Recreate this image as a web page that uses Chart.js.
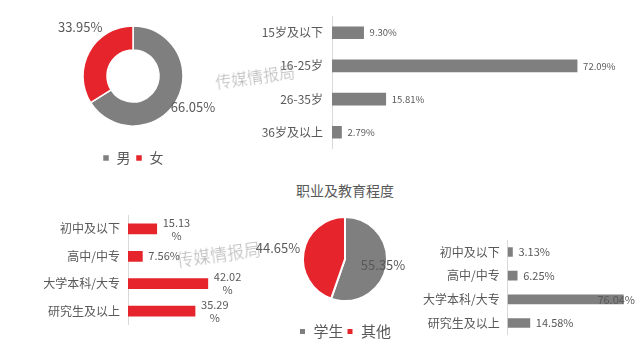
<!DOCTYPE html>
<html><head><meta charset="utf-8">
<script src="https://cdn.jsdelivr.net/npm/chart.js@4"></script>
<style>
html,body{margin:0;padding:0;background:#fff;width:640px;height:355px;overflow:hidden;}
.box{position:absolute;}
.title{position:absolute;left:245px;width:200px;top:180px;text-align:center;font:14px "Noto Sans CJK SC",sans-serif;color:#595959;line-height:20px;}
.wm{position:absolute;font-family:"Noto Sans CJK SC",sans-serif;font-weight:300;color:rgba(140,140,140,0.65);transform:rotate(-8deg);white-space:nowrap;pointer-events:none;z-index:5;}
</style></head>
<body>
<div class="box" style="left:20px;top:0;width:226px;height:180px"><canvas id="c1"></canvas></div>
<div class="box" style="left:220px;top:0;width:420px;height:165px"><canvas id="c2"></canvas></div>
<div class="title">职业及教育程度</div>
<div class="box" style="left:0;top:200px;width:260px;height:140px"><canvas id="c3"></canvas></div>
<div class="box" style="left:245px;top:195px;width:200px;height:160px"><canvas id="c4"></canvas></div>
<div class="box" style="left:380px;top:225px;width:260px;height:125px"><canvas id="c5"></canvas></div>
<div class="wm" style="left:215px;top:64px;font-size:16px">传媒情报局</div>
<div class="wm" style="left:176px;top:241px;font-size:17px">传媒情报局</div>
<script>
const genderLabels = ['男', '女'];
const genderValues = [66.05, 33.95];
const ageLabels = ['15岁及以下', '16-25岁', '26-35岁', '36岁及以上'];
const ageValues = [9.30, 72.09, 15.81, 2.79];
const occLabels = ['学生', '其他'];
const occValues = [55.35, 44.65];
const eduLabels = ['初中及以下', '高中/中专', '大学本科/大专', '研究生及以上'];
const eduOtherValues = [15.13, 7.56, 42.02, 35.29];
const eduStudentValues = [3.13, 6.25, 76.04, 14.58];

const GRAY = '#7f7f7f', RED = '#e5252b', TXT = '#595959', AXIS = '#d9d9d9';
const FAMILY = '"Noto Sans CJK SC", "Open Sans", sans-serif';
Chart.defaults.font.family = FAMILY;
Chart.defaults.color = TXT;
Chart.defaults.animation = false;
Chart.defaults.responsive = true;
Chart.defaults.maintainAspectRatio = false;

const sliceLabels = {
  id: 'sliceLabels',
  afterDatasetsDraw(chart, args, opts) {
    const meta = chart.getDatasetMeta(0);
    const ctx = chart.ctx;
    ctx.save();
    ctx.font = opts.size + 'px ' + FAMILY;
    ctx.fillStyle = TXT;
    ctx.textAlign = 'center';
    ctx.textBaseline = 'middle';
    meta.data.forEach((arc, i) => {
      const p = arc.getProps(['x', 'y', 'startAngle', 'endAngle', 'outerRadius'], true);
      const o = opts.place[i];
      const mid = (p.startAngle + p.endAngle) / 2 + o.a * Math.PI / 180;
      const r = p.outerRadius + o.r;
      const v = chart.data.datasets[0].data[i];
      ctx.fillText(v.toFixed(2) + '%', p.x + Math.cos(mid) * r, p.y + Math.sin(mid) * r);
    });
    ctx.restore();
  }
};

const barLabels = {
  id: 'barLabels',
  afterDatasetsDraw(chart, args, opts) {
    const meta = chart.getDatasetMeta(0);
    const ctx = chart.ctx;
    ctx.save();
    ctx.font = opts.size + 'px ' + FAMILY;
    ctx.fillStyle = TXT;
    ctx.textAlign = 'center';
    ctx.textBaseline = 'middle';
    meta.data.forEach((bar, i) => {
      const v = chart.data.datasets[0].data[i];
      const num = v.toFixed(2);
      const txt = num + '%';
      let lines = [txt];
      if (opts.wrapChars && txt.length > opts.wrapChars) lines = [num, '%'];
      const w = Math.max(...lines.map(l => ctx.measureText(l).width));
      let x = bar.x + opts.gap;
      if (x + w > chart.width - 5) x = chart.width - 5 - w;
      lines.forEach((l, j) => {
        ctx.fillText(l, x + w / 2, bar.y + (j - (lines.length - 1) / 2) * opts.lineHeight);
      });
    });
    ctx.restore();
  }
};

function pieChart(id, type, labels, values, cfg) {
  return new Chart(document.getElementById(id), {
    type: type,
    data: { labels: labels, datasets: [{ data: values, backgroundColor: [GRAY, RED], borderColor: '#fff', borderWidth: cfg.border }] },
    options: {
      radius: cfg.radius,
      cutout: cfg.cutout,
      layout: { padding: cfg.padding },
      plugins: {
        legend: { position: 'bottom', labels: { boxWidth: 7, boxHeight: 7, padding: cfg.legendPad, color: TXT, font: { size: cfg.legendSize } } },
        tooltip: { enabled: false },
        sliceLabels: { size: 13, place: cfg.place }
      }
    },
    plugins: [sliceLabels]
  });
}

function barChart(id, labels, values, color, cfg) {
  return new Chart(document.getElementById(id), {
    type: 'bar',
    data: { labels: labels, datasets: [{ data: values, backgroundColor: color, barThickness: cfg.thickness }] },
    options: {
      indexAxis: 'y',
      layout: { padding: cfg.padding },
      scales: {
        x: { display: false, min: 0, max: cfg.max },
        y: {
          grid: { display: true, drawOnChartArea: false, drawTicks: false },
          border: { display: true, color: AXIS, width: 1 },
          ticks: { padding: cfg.tickPad, color: TXT, font: { size: 12 } },
          afterFit(scale) { scale.width = cfg.axisWidth; }
        }
      },
      plugins: {
        legend: { display: false },
        tooltip: { enabled: false },
        barLabels: cfg.labels
      }
    },
    plugins: [barLabels]
  });
}

pieChart('c1', 'doughnut', genderLabels, genderValues, {
  radius: 50, cutout: '52%', border: 1.5, legendPad: 5, legendSize: 14,
  padding: { top: 6, bottom: 5, left: 0, right: 0 },
  place: [{ r: 17.5, a: -1.6 }, { r: 22, a: 13.9 }]
});

barChart('c2', ageLabels, ageValues, GRAY, {
  thickness: 12, max: 85, axisWidth: 112, tickPad: 9,
  padding: { top: 11, bottom: 10, left: 0, right: 19 },
  labels: { size: 9.5, gap: 6, lineHeight: 11 }
});

barChart('c3', eduLabels, eduOtherValues, RED, {
  thickness: 10, max: 60, axisWidth: 128, tickPad: 8,
  padding: { top: 15, bottom: 12, left: 0, right: 18 },
  labels: { size: 11, gap: 6, lineHeight: 13, wrapChars: 5 }
});

pieChart('c4', 'pie', occLabels, occValues, {
  radius: 42, cutout: 0, border: 2, legendPad: 3, legendSize: 15,
  padding: { top: 2, bottom: 6, left: 0, right: 0 },
  place: [{ r: -3.4, a: 0 }, { r: 26, a: 0 }]
});

barChart('c5', eduLabels, eduStudentValues, GRAY, {
  thickness: 9, max: 80, axisWidth: 127.7, tickPad: 8,
  padding: { top: 10.5, bottom: 6.5, left: 0, right: 10.7 },
  labels: { size: 11, gap: 6, lineHeight: 13 }
});
</script>
</body></html>
